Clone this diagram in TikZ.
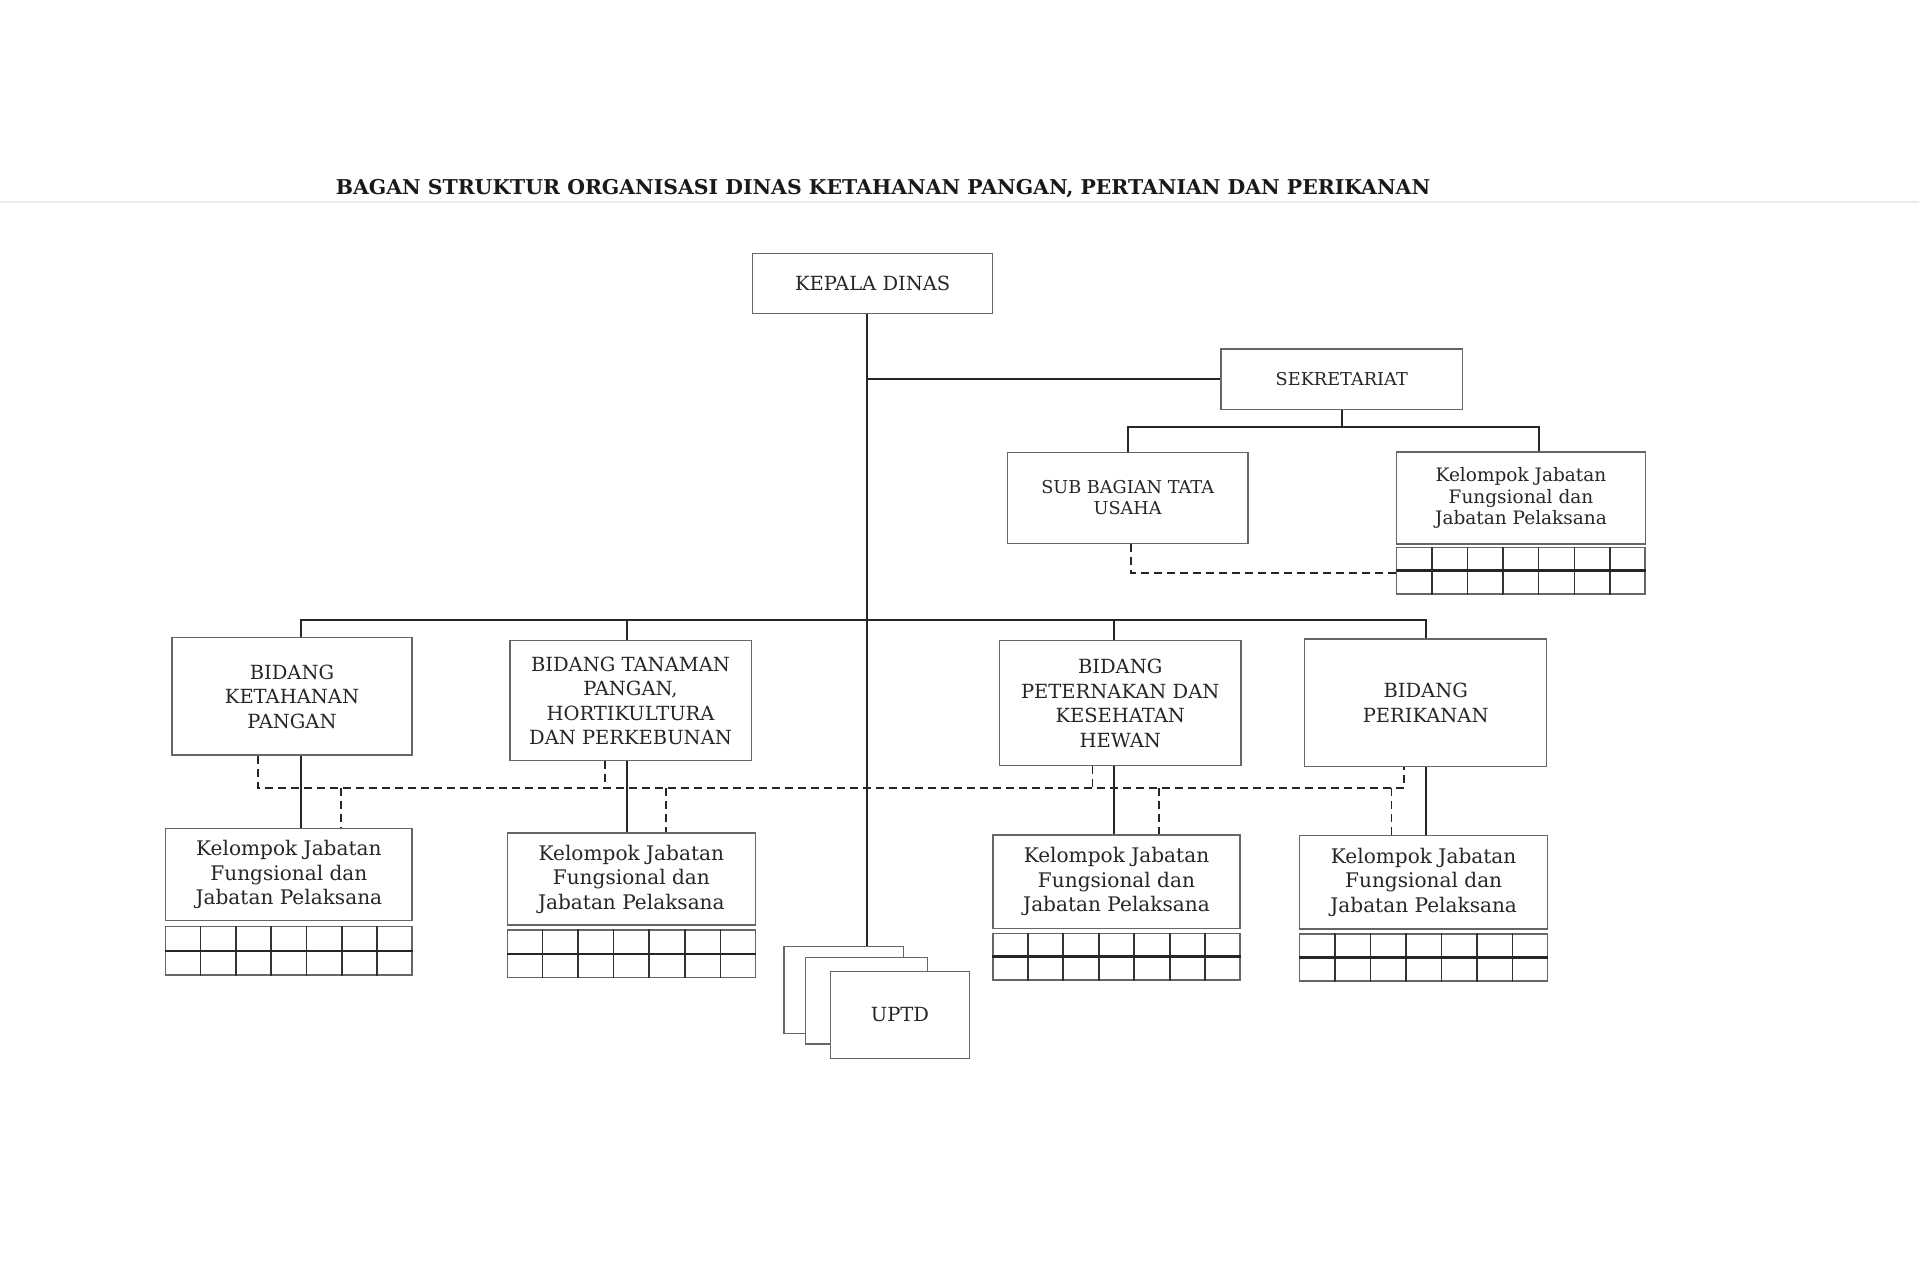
\documentclass[tikz,border=0pt]{standalone}
\usepackage{fontspec}
\setmainfont{DejaVu Serif}
\usetikzlibrary{calc}
\newcommand\jabgrid[1]{%
  \foreach \i in {1,...,6}{\draw[gridline] ($(#1.south west)!\i/7!(#1.south east)$) -- ($(#1.north west)!\i/7!(#1.north east)$);}
  \draw[midline] (#1.west) -- (#1.east);}
\tikzset{
  box/.style={draw=black!60, line width=1.3pt, align=center, inner sep=0pt, text=black!85,
    font=\fontsize{19.5}{24.5}\selectfont},
  kbox/.style={box, font=\fontsize{20.1}{24.5}\selectfont},
  sbox/.style={box, font=\fontsize{17.7}{21.5}\selectfont},
  skbox/.style={box, font=\fontsize{18.5}{21.5}\selectfont},
  gridbox/.style={draw=black!60, line width=1.3pt, inner sep=0pt},
  gridline/.style={draw=black!80, line width=1.6pt},
  midline/.style={draw=black!85, line width=2.6pt},
  uptdbox/.style={box, fill=white},
  link/.style={draw=black!85, line width=2pt},
  dlink/.style={draw=black!85, line width=1.6pt, dash pattern=on 8pt off 5pt},
}
\begin{document}
\begin{tikzpicture}[x=1pt,y=-1pt]
\useasboundingbox (0,0) rectangle (1919,1263);
\fill[white] (0,0) rectangle (1919,1263);
\draw[black!8, line width=1.5pt] (0,202) -- (1919,202);

\node[text=black!90, font=\fontsize{20.4}{24}\selectfont\bfseries] (title) at (883,189)
  {BAGAN STRUKTUR ORGANISASI DINAS KETAHANAN PANGAN, PERTANIAN DAN PERIKANAN};

\node[box, minimum width=240pt, minimum height=60pt] (kepala) at (872.7,283.3) {KEPALA DINAS};
\node[sbox, minimum width=241.5pt, minimum height=60.3pt] (sek) at (1341.75,379.2) {SEKRETARIAT};
\node[sbox, minimum width=240.7pt, minimum height=91pt] (subbag) at (1127.65,497.8) {SUB BAGIAN TATA\\USAHA};
\node[skbox, minimum width=249.3pt, minimum height=92pt] (kelsek) at (1521,498) {Kelompok Jabatan\\Fungsional dan\\Jabatan Pelaksana};
\node[gridbox, minimum width=248.3pt, minimum height=46.7pt] (gridsek) at (1520.85,570.65) {};

\node[box, minimum width=240pt, minimum height=117.3pt] (bid1) at (292,696.4) {BIDANG\\KETAHANAN\\PANGAN};
\node[box, minimum width=241.3pt, minimum height=120pt] (bid2) at (630.5,700.7) {BIDANG TANAMAN\\PANGAN,\\HORTIKULTURA\\DAN PERKEBUNAN};
\node[box, minimum width=241.7pt, minimum height=125pt] (bid3) at (1120.25,703.2) {BIDANG\\PETERNAKAN DAN\\KESEHATAN\\HEWAN};
\node[box, minimum width=241.8pt, minimum height=127.7pt] (bid4) at (1425.7,702.85) {BIDANG\\PERIKANAN};

\node[kbox, minimum width=246.2pt, minimum height=92.4pt] (kel1) at (288.9,874.5) {Kelompok Jabatan\\Fungsional dan\\Jabatan Pelaksana};
\node[kbox, minimum width=247.9pt, minimum height=92pt] (kel2) at (631.35,879) {Kelompok Jabatan\\Fungsional dan\\Jabatan Pelaksana};
\node[kbox, minimum width=247.2pt, minimum height=93.3pt] (kel3) at (1116.5,881.65) {Kelompok Jabatan\\Fungsional dan\\Jabatan Pelaksana};
\node[kbox, minimum width=247.7pt, minimum height=93.3pt] (kel4) at (1423.65,882.35) {Kelompok Jabatan\\Fungsional dan\\Jabatan Pelaksana};

\node[gridbox, minimum width=246.2pt, minimum height=48.3pt] (grid1) at (288.9,950.85) {};
\node[gridbox, minimum width=247.9pt, minimum height=47.7pt] (grid2) at (631.35,953.85) {};
\node[gridbox, minimum width=247.2pt, minimum height=46.7pt] (grid3) at (1116.5,956.65) {};
\node[gridbox, minimum width=247.7pt, minimum height=47pt] (grid4) at (1423.65,957.5) {};

\node[uptdbox, minimum width=119.3pt, minimum height=86.6pt] (uptdA) at (843.65,990) {};
\node[uptdbox, minimum width=121.6pt, minimum height=86.7pt] (uptdB) at (866.5,1000.65) {};
\node[uptdbox, minimum width=139.4pt, minimum height=86.6pt] (uptdC) at (900,1015) {UPTD};

\jabgrid{gridsek}
\jabgrid{grid1}
\jabgrid{grid2}
\jabgrid{grid3}
\jabgrid{grid4}

% junction coordinates
\coordinate (spine) at (867,0);
\coordinate (busA) at (0,427);
\coordinate (busB) at (0,620);
\coordinate (busD) at (0,788);
\coordinate (busS) at (0,572.7);
\coordinate (kelsekc) at (1538.5,0);
\coordinate (c1) at (301,0);
\coordinate (c2) at (626.8,0);
\coordinate (c3) at (1113.8,0);
\coordinate (c4) at (1425.7,0);
\coordinate (u1) at (257.8,0);
\coordinate (u2) at (605.2,0);
\coordinate (u3) at (1092.4,0);
\coordinate (u4) at (1403.8,0);
\coordinate (d1) at (340.7,0);
\coordinate (d2) at (666.2,0);
\coordinate (d3) at (1159,0);
\coordinate (d4) at (1391.4,0);
\coordinate (sd) at (1131,0);

% solid connectors
\draw[link] (spine |- kepala.south) -- (spine |- uptdA.north);
\draw[link] (spine |- sek.west) -- (sek.west);
\draw[link] (sek.south) -- (sek.south |- busA);
\draw[link] (subbag.north) -- (subbag.north |- busA) -- (kelsekc |- busA) -- (kelsekc |- kelsek.north);
\draw[link] (c1 |- bid1.north) -- (c1 |- busB) -- (c4 |- busB) -- (c4 |- bid4.north);
\draw[link] (c2 |- busB) -- (c2 |- bid2.north);
\draw[link] (c3 |- busB) -- (c3 |- bid3.north);
\draw[link] (c1 |- bid1.south) -- (c1 |- kel1.north);
\draw[link] (c2 |- bid2.south) -- (c2 |- kel2.north);
\draw[link] (c3 |- bid3.south) -- (c3 |- kel3.north);
\draw[link] (c4 |- bid4.south) -- (c4 |- kel4.north);

% dashed connectors
\draw[dlink] (sd |- subbag.south) -- (sd |- busS) -- (gridsek.west |- busS);
\draw[dlink] (u1 |- bid1.south) -- (u1 |- busD) -- (u4 |- busD) -- (u4 |- bid4.south);
\draw[dlink] (u2 |- bid2.south) -- (u2 |- busD);
\draw[dlink] (u3 |- bid3.south) -- (u3 |- busD);
\draw[dlink] (d1 |- busD) -- (d1 |- kel1.north);
\draw[dlink] (d2 |- busD) -- (d2 |- kel2.north);
\draw[dlink] (d3 |- busD) -- (d3 |- kel3.north);
\draw[dlink] (d4 |- busD) -- (d4 |- kel4.north);
\end{tikzpicture}
\end{document}
